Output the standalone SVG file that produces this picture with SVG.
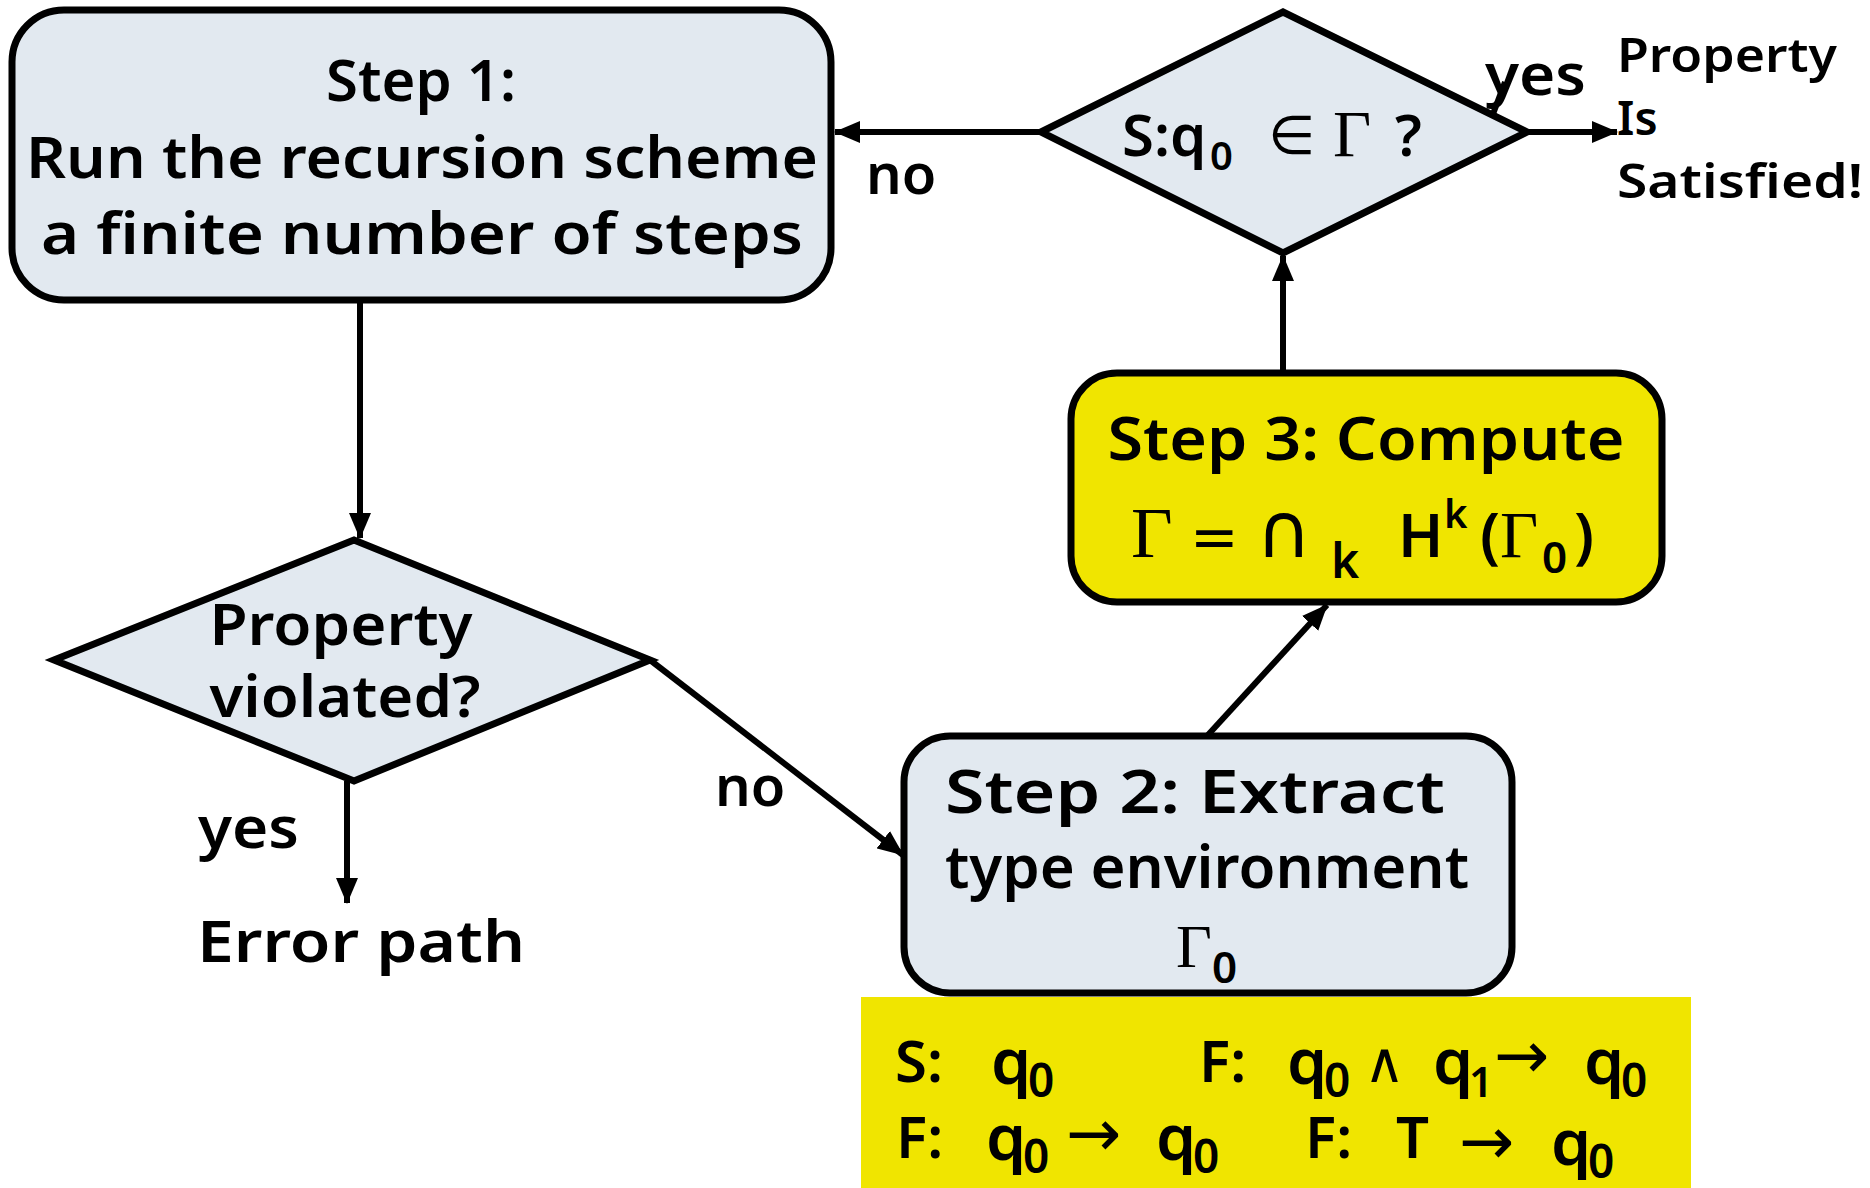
<svg xmlns="http://www.w3.org/2000/svg" width="1870" height="1188" viewBox="0 0 1870 1188">
<style>
.box{fill:#E2E9F0;stroke:#000;stroke-width:7}
.ybox{fill:#F0E500;stroke:#000;stroke-width:7}
.t{font-family:"Noto Sans","DejaVu Sans",sans-serif;font-weight:600;fill:#000}
.s{font-family:"Liberation Serif","Times New Roman",serif;font-weight:normal}
.m{font-family:"DejaVu Sans",sans-serif;font-weight:normal}
.c{stroke:#000;stroke-width:6;fill:none}
</style>
<defs>
<marker id="ah" viewBox="0 0 26 22" refX="25" refY="11" markerWidth="26" markerHeight="22" markerUnits="userSpaceOnUse" orient="auto">
<path d="M0,0 L26,11 L0,22 z" fill="#000"/>
</marker>
</defs>
<g id="connectors">
<line class="c" x1="1041" y1="132" x2="835" y2="132" marker-end="url(#ah)"/>
<line class="c" x1="360" y1="303" x2="360" y2="538" marker-end="url(#ah)"/>
<line class="c" x1="347" y1="781" x2="347" y2="903" marker-end="url(#ah)"/>
<line class="c" x1="650" y1="660" x2="903" y2="855" marker-end="url(#ah)"/>
<line class="c" x1="1207" y1="736" x2="1327" y2="605" marker-end="url(#ah)"/>
<line class="c" x1="1283" y1="370" x2="1283" y2="256" marker-end="url(#ah)"/>
<line class="c" x1="1527" y1="132" x2="1617" y2="132" marker-end="url(#ah)"/>
<line class="c" x1="1493" y1="114" x2="1505" y2="82" stroke-width="4"/>
</g>
<g id="step1">
<rect class="box" x="12" y="10" width="819" height="290" rx="52"/>
<text class="t" font-size="58" x="421" y="101" text-anchor="middle">Step 1:</text>
<text class="t" font-size="58" x="422" y="178" text-anchor="middle" textLength="792" lengthAdjust="spacingAndGlyphs">Run the recursion scheme</text>
<text class="t" font-size="58" x="422" y="254" text-anchor="middle" textLength="762" lengthAdjust="spacingAndGlyphs">a finite number of steps</text>
</g>
<g id="check">
<polygon class="box" points="1041,132 1283,12 1527,132 1283,253"/>
<text class="t" font-size="58" y="156"><tspan x="1122">S:q</tspan><tspan x="1210" y="170" font-size="40">0</tspan><tspan class="m" x="1268" y="154" font-size="54">∈</tspan><tspan class="s" x="1333" y="156" font-size="66">Γ</tspan><tspan x="1395" y="156">?</tspan></text>
</g>
<g id="yes1">
<text class="t" font-size="58" x="1485" y="95" textLength="101" lengthAdjust="spacingAndGlyphs">yes</text>
</g>
<g id="satisfied">
<text class="t" font-size="47" x="1617" y="72" textLength="220" lengthAdjust="spacingAndGlyphs">Property</text>
<text class="t" font-size="47" x="1617" y="135">Is</text>
<text class="t" font-size="47" x="1617" y="198" textLength="246" lengthAdjust="spacingAndGlyphs">Satisfied!</text>
</g>
<g id="no1">
<text class="t" font-size="56" x="866" y="194">no</text>
</g>
<g id="step3">
<rect class="ybox" x="1071" y="373" width="591" height="229" rx="46"/>
<text class="t" font-size="60" x="1366" y="460" text-anchor="middle" textLength="517" lengthAdjust="spacingAndGlyphs">Step 3: Compute</text>
<text class="t" font-size="60" y="557"><tspan class="s" x="1131" font-size="72">Γ</tspan><tspan class="m" x="1190" font-size="58">=</tspan><tspan class="m" x="1256" font-size="76">∩</tspan><tspan x="1331" y="578" font-size="48">k</tspan><tspan x="1398" y="557">H</tspan><tspan x="1444" y="528" font-size="40">k</tspan><tspan x="1480" y="557" font-size="62">(</tspan><tspan class="s" x="1500" y="557" font-size="66">Γ</tspan><tspan x="1542" y="573" font-size="44">0</tspan><tspan x="1574" y="557" font-size="62">)</tspan></text>
</g>
<g id="step2">
<rect class="box" x="904" y="736" width="608" height="257" rx="46"/>
<text class="t" font-size="60" x="945" y="813" textLength="500" lengthAdjust="spacingAndGlyphs">Step 2: Extract</text>
<text class="t" font-size="60" x="945" y="888" textLength="524" lengthAdjust="spacingAndGlyphs">type environment</text>
<text class="t" y="967"><tspan class="s" x="1176" font-size="62">Γ</tspan><tspan x="1212" y="983" font-size="44">0</tspan></text>
</g>
<g id="violated">
<polygon class="box" points="54,660 354,540 650,660 354,781"/>
<text class="t" font-size="58" x="341" y="645" text-anchor="middle" textLength="263" lengthAdjust="spacingAndGlyphs">Property</text>
<text class="t" font-size="58" x="345" y="717" text-anchor="middle" textLength="271" lengthAdjust="spacingAndGlyphs">violated?</text>
</g>
<g id="yes2">
<text class="t" font-size="58" x="198" y="848" textLength="101" lengthAdjust="spacingAndGlyphs">yes</text>
</g>
<g id="no2">
<text class="t" font-size="56" x="715" y="806">no</text>
</g>
<g id="error">
<text class="t" font-size="58" x="197" y="962" textLength="328" lengthAdjust="spacingAndGlyphs">Error path</text>
</g>
<g id="types">
<rect x="861" y="997" width="830" height="191" fill="#F0E500"/>
<text class="t" font-size="58" y="1082"><tspan x="895">S:</tspan><tspan x="991" font-size="64" y="1084">q</tspan><tspan x="1028" y="1097" font-size="46">0</tspan><tspan x="1199" y="1082">F:</tspan><tspan x="1287" y="1084" font-size="64">q</tspan><tspan x="1324" y="1097" font-size="46">0</tspan><tspan class="m" x="1364" y="1082" font-size="56">∧</tspan><tspan x="1433" y="1084" font-size="64">q</tspan><tspan x="1469" y="1097" font-size="42">1</tspan><tspan class="m" x="1494" y="1078" font-size="66">→</tspan><tspan x="1584" y="1084" font-size="64">q</tspan><tspan x="1621" y="1097" font-size="46">0</tspan></text>
<text class="t" font-size="58" y="1158"><tspan x="896">F:</tspan><tspan x="986" y="1160" font-size="64">q</tspan><tspan x="1023" y="1173" font-size="46">0</tspan><tspan class="m" x="1066" y="1156" font-size="66">→</tspan><tspan x="1156" y="1160" font-size="64">q</tspan><tspan x="1193" y="1173" font-size="46">0</tspan><tspan x="1305" y="1158">F:</tspan><tspan x="1396" y="1158">T</tspan><tspan class="m" x="1459" y="1164" font-size="66">→</tspan><tspan x="1551" y="1165" font-size="64">q</tspan><tspan x="1588" y="1178" font-size="46">0</tspan></text>
</g>
</svg>
